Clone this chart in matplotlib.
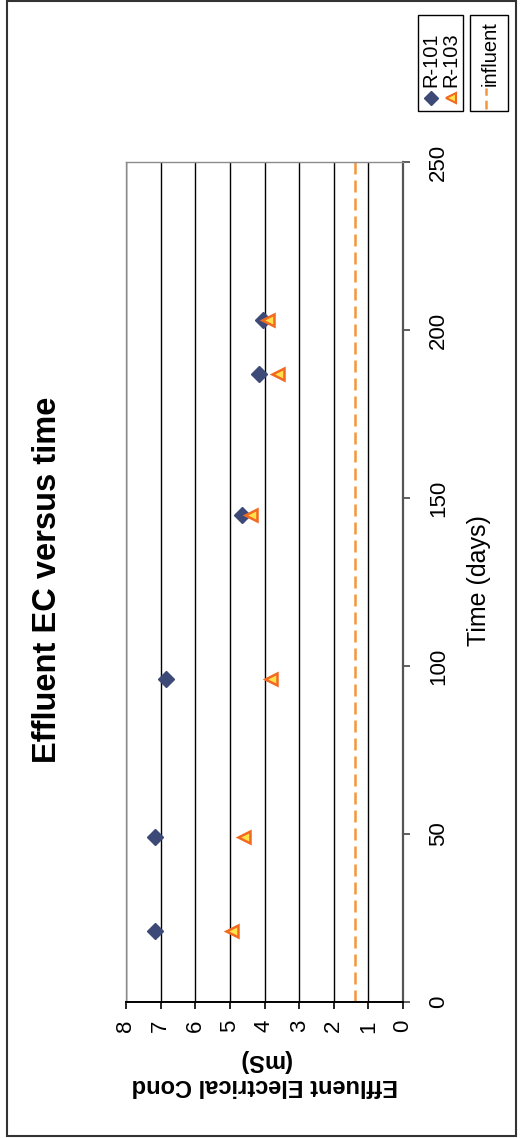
import matplotlib
matplotlib.use("Agg")
import matplotlib.pyplot as plt
from matplotlib.lines import Line2D
from matplotlib.patches import Rectangle

plt.rcParams['font.family'] = ['Liberation Sans', 'DejaVu Sans']

# Sampling times (days) and effluent electrical conductivity (mS)
time_days = [21, 49, 96, 145, 187, 203]
ec_r101 = [7.15, 7.15, 6.85, 4.65, 4.15, 4.05]
ec_r103 = [4.95, 4.60, 3.80, 4.40, 3.60, 3.90]
influent_time = [0, 250]
influent_ec = [1.4, 1.4]

ec_ticks = [0, 1, 2, 3, 4, 5, 6, 7, 8]
time_ticks = [0, 50, 100, 150, 200, 250]

W, H = 520, 1138
fig = plt.figure(figsize=(W / 100, H / 100), dpi=100)
fig.patch.set_facecolor('white')


def fx(x):
    return x / W


def fy(y):
    return 1 - y / H


# Page is turned a quarter: conductivity runs right-to-left, time runs upward
ax = fig.add_axes([fx(126), fy(1002), (403 - 126) / W, (1002 - 162) / H])
ax.set_xlim(8, 0)
ax.set_ylim(0, 250)
ax.set_xticks(ec_ticks)
ax.set_yticks(time_ticks)
ax.yaxis.tick_right()
ax.xaxis.grid(True, color='black', linewidth=1.0)
ax.set_axisbelow(True)

for side in ('left', 'top'):
    ax.spines[side].set_color('#8c8c8c')
    ax.spines[side].set_linewidth(1.0)
ax.spines['right'].set_color('#555555')
ax.spines['right'].set_linewidth(1.6)
ax.spines['bottom'].set_color('black')
ax.spines['bottom'].set_linewidth(1.4)

ax.tick_params(axis='x', direction='out', length=5, width=1.2, colors='black',
               labelsize=16, pad=8, labelrotation=90)
ax.tick_params(axis='y', direction='out', length=5, width=1.2, colors='#444444',
               labelcolor='black', labelsize=16, pad=13, labelrotation=90,
               right=True, left=False, labelright=True, labelleft=False)
for lab in ax.get_yticklabels():
    lab.set_verticalalignment('center')

dia_face = '#3d4a78'
tri_face = '#ffe14a'
tri_edge = '#f26a22'
dash_col = '#f5963a'

ax.plot(influent_ec, influent_time, color=dash_col, linewidth=1.8,
        dashes=(4.8, 2.4), zorder=2)
ax.plot(ec_r101, time_days, linestyle='none', marker='D', markersize=8,
        markerfacecolor=dia_face, markeredgecolor=dia_face, zorder=3)
ax.plot(ec_r103, time_days, linestyle='none', marker='<', markersize=9,
        markerfacecolor=tri_face, markeredgecolor=tri_edge,
        markeredgewidth=1.8, zorder=4)

# Titles
fig.text(fx(48), fy(580), 'Effluent EC versus time', rotation=90,
         ha='center', va='center', fontsize=23.5, fontweight='bold')
fig.text(fx(479), fy(581), 'Time (days)', rotation=90,
         ha='center', va='center', fontsize=18)
fig.text(fx(265), fy(1073), 'Effluent Electrical Cond\n(mS)', rotation=180,
         ha='center', va='center', fontsize=17, fontweight='bold',
         multialignment='center', linespacing=1.15)

# Legend for the two reactors
fig.add_artist(Rectangle((fx(418), fy(111)), (463 - 418) / W, (111 - 15) / H,
                         transform=fig.transFigure, facecolor='white',
                         edgecolor='black', linewidth=1.0))
fig.add_artist(Line2D([fx(431)], [fy(98)], transform=fig.transFigure,
                      linestyle='none', marker='D', markersize=7,
                      markerfacecolor=dia_face, markeredgecolor=dia_face))
fig.text(fx(431), fy(87), 'R-101', rotation=90, ha='center', va='bottom',
         fontsize=14.5)
fig.add_artist(Line2D([fx(451)], [fy(98)], transform=fig.transFigure,
                      linestyle='none', marker='<', markersize=7.5,
                      markerfacecolor=tri_face, markeredgecolor=tri_edge,
                      markeredgewidth=1.5))
fig.text(fx(451), fy(87), 'R-103', rotation=90, ha='center', va='bottom',
         fontsize=14.5)

# Legend for the influent line
fig.add_artist(Rectangle((fx(470), fy(111)), (508 - 470) / W, (111 - 15) / H,
                         transform=fig.transFigure, facecolor='white',
                         edgecolor='black', linewidth=1.0))
fig.add_artist(Line2D([fx(486), fx(486)], [fy(109), fy(88)],
                      transform=fig.transFigure, color=dash_col,
                      linewidth=1.8, dashes=(3.5, 2.0)))
fig.text(fx(490), fy(86), 'influent', rotation=90, ha='center', va='bottom',
         fontsize=14.5)

# Outer chart frame
fig.add_artist(Rectangle((fx(7), fy(1136)), (516 - 7) / W, (1136 - 1) / H,
                         transform=fig.transFigure, facecolor='none',
                         edgecolor='#333333', linewidth=1.5))

fig.savefig('out.png', dpi=100)
